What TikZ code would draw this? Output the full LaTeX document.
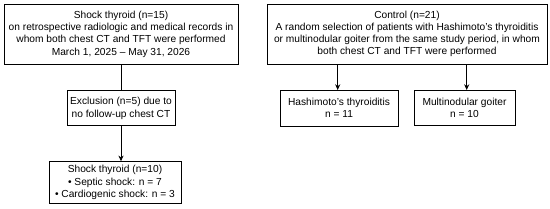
\documentclass[tikz,border=0pt]{standalone}
\usepackage{fontspec}
\setmainfont{Liberation Sans}
\usetikzlibrary{positioning,arrows.meta,calc}
\tikzset{
  >={Stealth[length=2mm,width=1.8mm]},
  bx/.style={draw,line width=0.8pt,inner sep=0pt,align=center,
             font=\fontsize{10.2}{12.2}\selectfont},
  every path/.style={line width=0.8pt}
}

\begin{document}
\begin{tikzpicture}[x=1pt,y=-1pt]
  \useasboundingbox (0,0) rectangle (550,209);
  % ---- shock thyroid ----
  \node[bx,minimum width=234pt,minimum height=60.5pt] (shk) at (121,34.2)
    {Shock thyroid (n=15)\\on retrospective radiologic and medical records in\\
     whom both chest CT and TFT were performed\\March 1, 2025 -- May 31, 2026};
  \node[bx,minimum width=108pt,minimum height=35pt] (exc) at (121,108.3)
    {Exclusion (n=5) due to\\no follow-up chest CT};
  \node[bx,minimum width=132pt,minimum height=41.5pt] (fin) at (115,182.4)
    {Shock thyroid (n=10)\\• Septic shock: n = 7\\• Cardiogenic shock: n = 3};
  \draw (shk.south) -- (exc.north);
  \draw[->] (exc.south) -- (exc.south |- fin.north);

  % ---- control ----
  \node[bx,minimum width=280pt,minimum height=60pt] (ctl) at (407,34)
    {Control (n=21)\\A random selection of patients with Hashimoto's thyroiditis\\
     or multinodular goiter from the same study period, in whom\\both chest CT and TFT were performed};
  \node[bx,minimum width=118pt,minimum height=36pt] (has) at (339,108)
    {Hashimoto's thyroiditis\\n = 11};
  \node[bx,minimum width=101pt,minimum height=35pt] (mng) at (464.5,107.5)
    {Multinodular goiter\\n = 10};
  \draw[->] (ctl.south -| 337.7,0) -- (337.7,90);
  \draw[->] (ctl.south -| 466.7,0) -- (466.7,90);
\end{tikzpicture}
\end{document}
